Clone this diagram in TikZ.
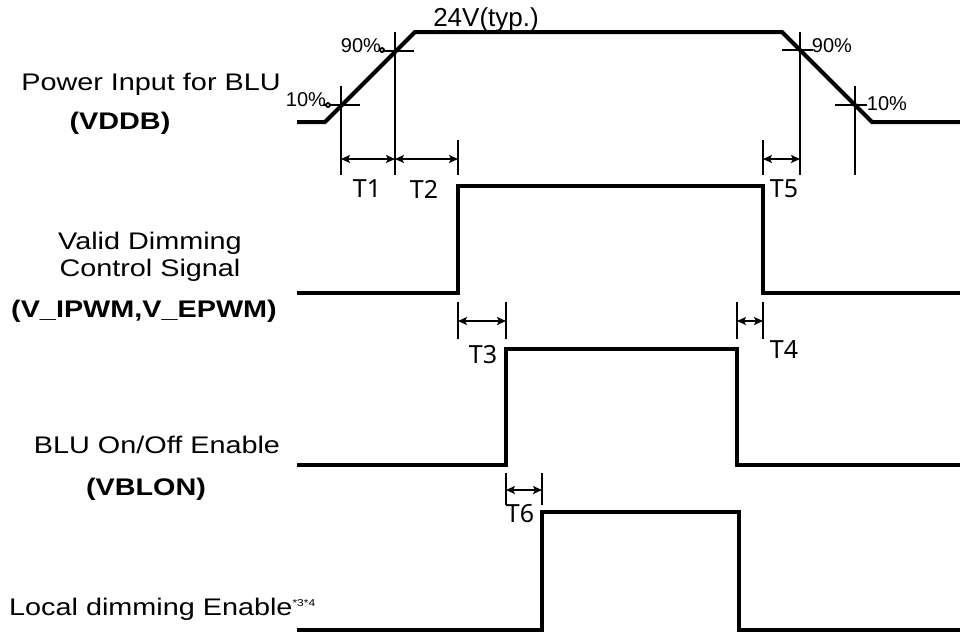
\documentclass[tikz,border=0pt]{standalone}
\usepackage{fontspec}
\setmainfont{Liberation Sans}
\newfontfamily\widefont[FakeStretch=1.2]{Liberation Sans}
\newfontfamily\tfont{Noto Sans}
\usetikzlibrary{arrows.meta,positioning,calc}

\begin{document}
\begin{tikzpicture}[x=1pt,y=-1pt,
  sig/.style={line width=4pt},
  guide/.style={line width=1.8pt},
  gap/.style={{Stealth[length=9pt,width=8pt,inset=2pt]}-{Stealth[length=9pt,width=8pt,inset=2pt]},line width=2pt},
  signame/.style={font=\widefont\fontsize{24}{27}\selectfont,align=center,inner sep=0pt},
  boldname/.style={signame,font=\widefont\bfseries\fontsize{24}{27}\selectfont},
  tlabel/.style={font=\tfont\fontsize{25}{25}\selectfont,inner sep=0pt},
  pct/.style={font=\fontsize{20}{20}\selectfont,inner sep=0pt}]
\useasboundingbox (0,0) rectangle (960,633);

% signal names
\node[signame] (vddb) at (151,84) {Power Input for BLU};
\node[boldname] (vddbb) at (120,123) {(VDDB)};
\node[signame] (pwm) at (150,257) {Valid Dimming\\Control Signal};
\node[boldname] (pwmb) at (144,311) {(V\_IPWM,V\_EPWM)};
\node[signame] (blon) at (157,445) {BLU On/Off Enable};
\node[boldname] (blonb) at (146,489) {(VBLON)};
\node[signame,anchor=west] (ld) at (9,609) {Local dimming Enable\raisebox{9pt}{\fontsize{10}{10}\selectfont *3*4}};

% waveforms
\draw[sig] (297,122) -- (325,122) -- (415,32) -- (782,32) -- (872,122) -- (960,122);
\draw[sig] (297,293) -- (458,293) -- (458,186) -- (763,186) -- (763,293) -- (960,293);
\draw[sig] (297,465) -- (506,465) -- (506,349) -- (737,349) -- (737,465) -- (960,465);
\draw[sig] (297,630) -- (542,630) -- (542,512) -- (739,512) -- (739,630) -- (960,630);

% 10% / 90% levels
\draw[guide] (341,86) -- (341,175) (323,105) -- (360,105);
\draw[guide] (395,32) -- (395,175) (380,51) -- (414,51);
\draw[guide] (800,32) -- (800,175) (782,50) -- (813,50);
\draw[guide] (855,86) -- (855,175) (835,105) -- (867,105);
\draw[guide,fill=white] (328,105) circle[radius=2pt] (382,50) circle[radius=2pt];
\node[pct] (p10a) at (306,100) {10\%};
\node[pct] (p90a) at (361,46) {90\%};
\node[pct] (p90b) at (832,46) {90\%};
\node[pct] (p10b) at (887,104) {10\%};
\node[font=\fontsize{26}{26}\selectfont,inner sep=0pt] (typ) at (486,20) {24V(typ.)};

% timing marks
\draw[guide] (458,140) -- (458,175) (763,140) -- (763,175);
\draw[guide] (458,302) -- (458,339) (506,302) -- (506,339);
\draw[guide] (737,302) -- (737,339) (763,302) -- (763,339);
\draw[guide] (506,473) -- (506,505) (542,473) -- (542,505);

\coordinate (t1a) at (341,159);
\coordinate (t1b) at (395,159);
\coordinate (t2b) at (458,159);
\coordinate (t5a) at (763,159);
\coordinate (t5b) at (800,159);
\coordinate (t3a) at (458,321);
\coordinate (t3b) at (506,321);
\coordinate (t4a) at (737,321);
\coordinate (t4b) at (763,321);
\coordinate (t6a) at (506,490);
\coordinate (t6b) at (542,490);
\draw[gap] (t1a) -- (t1b);
\draw[gap] (t1b) -- (t2b);
\draw[gap] (t5a) -- (t5b);
\draw[gap] (t3a) -- (t3b);
\draw[gap] (t4a) -- (t4b);
\draw[gap] (t6a) -- (t6b);

\node[tlabel] (T1) at (367,189) {T1};
\node[tlabel] (T2) at (424,189) {T2};
\node[tlabel] (T5) at (784,189) {T5};
\node[tlabel] (T3) at (483,355) {T3};
\node[tlabel] (T4) at (784,350) {T4};
\node[tlabel] (T6) at (520,514) {T6};
\end{tikzpicture}
\end{document}
